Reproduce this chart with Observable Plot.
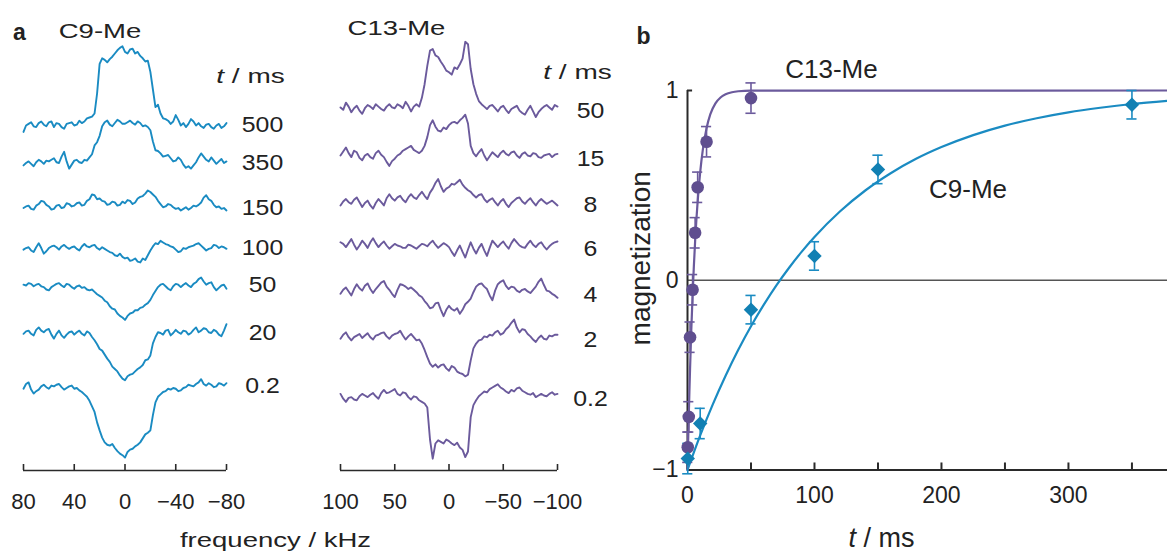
<!DOCTYPE html>
<html>
<head>
<meta charset="utf-8">
<script src="https://cdn.jsdelivr.net/npm/d3@7"></script>
<script src="https://cdn.jsdelivr.net/npm/@observablehq/plot@0.6"></script>
<style>
  html, body { margin: 0; padding: 0; background: #fff; }
  #fig { position: relative; width: 1167px; height: 554px; background: #fff; overflow: hidden; }
  #fig svg { position: absolute; left: 0; top: 0; }
  text { white-space: pre; }
</style>
</head>
<body>
<div id="fig"></div>
<script>
// ---------------- DATA ----------------
// Panel a, C9-Me spectra (frequency in kHz, intensity in arbitrary units)
const c9Freq = [80,78,76,74,72,70,68,66,64,62,60,58,56,54,52,50,48,46,44,42,40,38,36,34,32,30,28,26,24,22,20,18,16,14,12,10,8,6,4,2,0,-2,-4,-6,-8,-10,-12,-14,-16,-18,-20,-22,-24,-26,-28,-30,-32,-34,-36,-38,-40,-42,-44,-46,-48,-50,-52,-54,-56,-58,-60,-62,-64,-66,-68,-70,-72,-74,-76,-78,-80];
const c9Times = ["500","350","150","100","50","20","0.2"];
const c9_500 = [-0.08,0.0,0.02,0.04,-0.01,-0.02,0.03,0.05,0.01,-0.01,0.04,0.05,-0.02,0.03,0.02,-0.02,-0.04,0.02,0.03,0.04,0.0,0.01,0.06,0.03,0.05,0.09,0.10,0.11,0.15,0.40,0.77,0.84,0.82,0.79,0.83,0.86,0.90,0.94,0.97,0.99,0.92,0.90,0.95,0.96,0.90,0.92,0.87,0.84,0.80,0.81,0.67,0.45,0.23,0.26,0.15,0.09,0.08,0.06,0.02,0.05,0.13,0.07,0.0,0.03,-0.02,0.02,0.08,0.05,0.0,0.03,-0.01,-0.03,0.01,0.02,-0.02,-0.04,0.0,0.02,-0.03,-0.01,0.03];
const c9_350 = [-0.02,0.01,0.03,0.0,-0.03,0.02,0.05,0.03,0,0.04,0.03,0.05,0.07,0.02,0.01,0.09,0.15,0.03,-0.06,-0.01,0.04,0.05,0.02,0.01,0.05,0.04,0.08,0.12,0.23,0.27,0.35,0.47,0.52,0.54,0.49,0.47,0.51,0.55,0.53,0.50,0.50,0.52,0.54,0.51,0.49,0.53,0.51,0.47,0.48,0.46,0.42,0.28,0.17,0.16,0.13,0.09,0.10,0.11,0.07,0.03,0.04,0.08,0.05,-0.01,-0.05,-0.03,-0.06,-0.02,0.02,0.08,0.13,0.09,0.05,0.03,0.08,0.04,0,0.03,0.06,0.01,0.03];
const c9_150 = [0.01,0.03,0.04,0.0,-0.01,0.04,0.06,0.10,0.09,0.05,0.03,-0.01,0,0.04,0.05,0.01,0.02,0.07,0.06,0.03,0.04,0.07,0.08,0.04,0.05,0.10,0.12,0.18,0.17,0.12,0.13,0.10,0.09,0.05,0.06,0.09,0.08,0.04,0.05,0.09,0.07,0.11,0.10,0.06,0.08,0.13,0.15,0.16,0.19,0.23,0.21,0.18,0.15,0.10,0.06,0.02,0.03,0.06,0.05,0.02,0,0.01,-0.02,0.0,0.02,-0.01,0.01,0.04,0.03,0.05,0.08,0.14,0.17,0.12,0.10,0.05,0.02,0.03,0,0.01,-0.02];
const c9_100 = [-0.01,0.01,0.02,-0.02,-0.04,0.02,0.07,0.01,-0.06,-0.03,0.01,0.03,0.04,0.02,-0.01,0.03,0.05,0.02,0,0.02,0.03,0.0,-0.02,0.03,0.06,0.03,0.02,0.04,0.05,0.01,-0.01,0.02,0,-0.02,-0.04,-0.05,-0.08,-0.09,-0.06,-0.10,-0.12,-0.11,-0.15,-0.14,-0.12,-0.16,-0.17,-0.12,-0.14,-0.08,-0.02,0.03,0.07,0.06,0.10,0.08,0.06,0.05,0.03,0.02,-0.01,-0.04,-0.03,0.01,0,0.02,0.03,0.04,0.06,0.07,0.04,0.01,-0.02,0.0,0.01,0.05,0.04,0.01,0.03,0.02,0];
const c9_50 = [0.01,0.0,0.03,0.02,-0.01,0.01,0.02,-0.01,-0.02,-0.05,-0.06,-0.02,0,0.02,0.03,0.0,-0.02,0.02,0.01,-0.02,-0.04,-0.01,0,-0.03,-0.02,-0.05,-0.06,-0.05,-0.08,-0.11,-0.13,-0.15,-0.19,-0.21,-0.26,-0.29,-0.30,-0.35,-0.38,-0.40,-0.43,-0.38,-0.35,-0.34,-0.31,-0.31,-0.28,-0.27,-0.24,-0.22,-0.18,-0.12,-0.07,-0.02,0.01,0.02,-0.01,-0.04,-0.06,-0.01,0.02,0.01,-0.02,0.01,0.03,0.0,-0.02,0.02,0.04,0.08,0.10,0.05,0.01,0.03,0.04,-0.02,-0.06,-0.03,0,0.01,-0.04];
const c9_20 = [0,0.03,0.04,0.0,-0.02,0.05,0.08,0.04,0.02,0.05,0.06,-0.01,-0.06,0.0,0.04,-0.02,-0.05,-0.01,0.02,0.03,-0.01,0.02,0.04,0.0,-0.02,0.03,0.01,-0.04,-0.08,-0.13,-0.19,-0.21,-0.26,-0.31,-0.35,-0.41,-0.44,-0.47,-0.52,-0.56,-0.58,-0.53,-0.51,-0.50,-0.47,-0.44,-0.42,-0.39,-0.33,-0.32,-0.27,-0.12,-0.04,0.02,0.01,-0.01,0.04,0.05,-0.02,0.01,0.05,0.02,0,0.04,0.03,-0.01,0.01,0.05,0.08,0.02,0.04,0.07,0.06,0.02,0.01,0.05,0.03,-0.01,-0.03,0.04,0.12];
const c9_02 = [-0.02,0.04,0.06,-0.03,-0.08,-0.05,-0.03,0.01,0.03,0.0,-0.02,0.02,0.01,0.03,0.04,0.0,-0.03,-0.01,0.01,0.02,-0.02,-0.01,-0.04,-0.06,-0.09,-0.12,-0.17,-0.24,-0.31,-0.44,-0.54,-0.63,-0.69,-0.72,-0.73,-0.71,-0.76,-0.80,-0.83,-0.85,-0.88,-0.81,-0.78,-0.77,-0.74,-0.72,-0.69,-0.64,-0.59,-0.57,-0.54,-0.35,-0.19,-0.12,-0.09,-0.06,-0.05,-0.02,-0.03,-0.01,-0.02,-0.05,-0.04,-0.01,0,0.03,0.02,0.01,0.04,0.06,0.10,0.04,0.02,0.05,0.03,0.0,0.01,0.05,0.04,0.02,0.05];
const c9FreqTicks = [80,40,0,-40,-80];

// Panel a, C13-Me spectra
const c13Freq = [100,97.5,95,92.5,90,87.5,85,82.5,80,77.5,75,72.5,70,67.5,65,62.5,60,57.5,55,52.5,50,47.5,45,42.5,40,37.5,35,32.5,30,27.5,25,22.5,20,17.5,15,12.5,10,7.5,5,2.5,0,-2.5,-5,-7.5,-10,-12.5,-15,-17.5,-20,-22.5,-25,-27.5,-30,-32.5,-35,-37.5,-40,-42.5,-45,-47.5,-50,-52.5,-55,-57.5,-60,-62.5,-65,-67.5,-70,-72.5,-75,-77.5,-80,-82.5,-85,-87.5,-90,-92.5,-95,-97.5,-100];
const c13Times = ["50","15","8","6","4","2","0.2"];
const c13_50 = [0.01,-0.02,0.07,0.02,-0.05,0.0,0.03,-0.03,-0.07,0.0,0.04,0.02,-0.01,0.05,0.02,-0.01,-0.03,0.02,0.05,0.01,0,0.05,0.03,0.0,0.08,0.03,-0.04,0.02,0.05,0.02,0.13,0.30,0.53,0.72,0.74,0.66,0.64,0.58,0.53,0.47,0.45,0.42,0.51,0.49,0.55,0.62,0.83,0.80,0.49,0.30,0.18,0.09,0.05,0.02,-0.01,0.03,0.04,0.0,-0.04,0.01,0.03,-0.02,-0.06,-0.01,0.01,0.03,-0.03,-0.06,-0.08,-0.02,0.03,-0.04,-0.11,-0.05,-0.01,0.02,0.04,0.01,-0.02,0.04,0.02];
const c13_15 = [0,0.05,0.10,0.03,-0.02,0.06,0.04,-0.03,-0.06,0.0,0.02,-0.02,-0.04,0.03,0.06,0.01,-0.02,-0.08,-0.13,-0.07,-0.04,0.0,0.02,0.06,0.08,0.10,0.12,0.07,0.05,0.03,0.06,0.12,0.23,0.38,0.44,0.36,0.31,0.30,0.35,0.33,0.38,0.41,0.42,0.40,0.44,0.47,0.51,0.40,0.12,0.03,-0.01,0.04,0.08,0.0,-0.06,-0.01,0.04,0.01,-0.02,0.03,0.06,0.02,0,0.04,0.05,0.0,-0.03,0.02,0.04,0.00,-0.01,0.03,0.02,-0.02,-0.03,0.0,0.01,0.02,-0.02,0.01,0.02];
const c13_8 = [-0.04,0.01,0.04,0.0,-0.02,0.03,0.06,0.0,-0.06,-0.01,0.02,-0.04,-0.08,-0.01,0.04,0.0,-0.04,0.05,0.10,0.05,0.02,0.06,0.08,0.03,0,0.06,0.10,0.06,0.04,0.09,0.13,0.08,0.04,0.12,0.17,0.24,0.29,0.20,0.13,0.17,0.19,0.23,0.22,0.25,0.28,0.22,0.18,0.15,0.13,0.09,0.06,0.09,0.10,0.04,0,0.03,0.05,0.0,-0.04,0.01,0.04,-0.02,-0.06,-0.01,0.02,0.05,0.06,0.01,-0.02,0.02,0.05,0.0,-0.04,0.01,0.04,0.01,-0.02,0.0,0.02,-0.01,-0.04];
const c13_6 = [0.04,0.02,-0.02,0.03,0.08,0.01,-0.05,0.00,0.06,0.02,-0.03,0.04,0.09,0.03,-0.02,0.02,0.05,0.0,-0.04,-0.01,0.02,0.0,-0.01,-0.03,-0.03,0.01,0,-0.02,-0.04,-0.01,0.02,0.01,-0.01,0.03,0.06,0.01,-0.03,0.0,0.03,0.01,-0.02,-0.08,-0.13,-0.06,0,-0.08,-0.15,-0.05,0.04,-0.04,-0.10,-0.03,0.02,-0.06,-0.13,-0.03,0.06,0.02,-0.02,0.02,0.05,0.0,-0.04,0.03,0.08,0.04,0,-0.02,-0.03,0.02,0.06,0.01,-0.02,0.02,0.04,-0.01,-0.05,-0.01,0.02,0.04,0.05];
const c13_4 = [-0.02,0.03,0.06,0.01,-0.04,0.04,0.10,0.05,0.02,0.08,0.11,0.04,-0.01,0.04,0.08,0.12,0.14,0.07,0.03,-0.02,-0.06,0.03,0.10,0.09,0.07,0.04,0.06,0.03,0,-0.04,-0.06,-0.11,-0.15,-0.20,-0.19,-0.14,-0.13,-0.22,-0.30,-0.22,-0.17,-0.21,-0.23,-0.20,-0.27,-0.22,-0.15,-0.12,-0.08,0.0,0.07,0.10,0.11,0.07,0.04,-0.04,-0.10,0.02,0.10,0.13,0.15,0.08,0.04,0.07,0.06,0.02,0,0.03,0.04,0.01,-0.01,0.03,0.07,0.13,0.17,0.09,0.02,0.01,-0.02,-0.04,-0.07];
const c13_2 = [-0.02,0.03,0.06,0.0,-0.04,0.0,0.02,0.04,-0.01,0.02,0.05,0.0,-0.03,0.02,0.03,0.05,0.06,0.01,-0.02,0.02,0.04,0.05,0.08,0.02,-0.03,0.01,0.04,0.0,-0.04,-0.03,-0.08,-0.16,-0.25,-0.33,-0.37,-0.34,-0.38,-0.35,-0.34,-0.39,-0.42,-0.36,-0.38,-0.43,-0.45,-0.46,-0.49,-0.47,-0.29,-0.14,-0.08,-0.04,-0.03,0.01,0,0.03,0.02,0.06,0.08,0.03,0.05,0.10,0.13,0.18,0.22,0.12,0.06,0.10,0.09,0.04,0.01,-0.03,-0.06,-0.01,0.02,-0.02,-0.03,0.02,0.01,0.03,0.03];
const c13_02 = [0.02,-0.04,-0.08,-0.03,-0.02,-0.05,-0.06,-0.01,0.02,0.0,-0.02,0.01,0.03,-0.01,-0.04,0.03,0.07,0.03,0.04,0.06,0.08,0.02,0,0.04,0.03,-0.02,-0.05,-0.01,-0.02,-0.06,-0.08,-0.10,-0.15,-0.55,-0.79,-0.60,-0.56,-0.58,-0.60,-0.55,-0.57,-0.60,-0.62,-0.59,-0.65,-0.68,-0.77,-0.70,-0.27,-0.12,-0.06,-0.01,0.02,0.05,0.04,0.08,0.10,0.12,0.14,0.10,0.08,0.05,0.03,0.07,0.05,0.09,0.10,0.06,0.04,0.02,0.01,0.03,-0.02,0.0,0.02,0.0,-0.01,0.02,0.04,0.01,0.02];
const c13FreqTicks = [100,50,0,-50,-100];

// Panel b, magnetization recovery
const c13T = [0.2,1,2,4,6,8,15,50];
const c13M = [-0.88,-0.72,-0.30,-0.05,0.25,0.49,0.73,0.96];
const c13Err = [0.08,0.08,0.08,0.08,0.08,0.08,0.08,0.08];
const c9T = [0.2,10,50,100,150,350];
const c9M = [-0.94,-0.755,-0.155,0.128,0.584,0.925];
const c9Err = [0.08,0.08,0.075,0.075,0.075,0.075];
// fitted curves
const c13FitT = [0,0.5,1,1.5,2,3,4,5,6,7,8,10,12,15,18,22,26,30,35,40,50,378];
const c13FitM = [-1,-0.852,-0.715,-0.588,-0.470,-0.261,-0.081,0.073,0.205,0.319,0.416,0.570,0.684,0.801,0.875,0.932,0.963,0.980,0.991,0.996,0.999,1.0];
const c9FitT = [0,10,20,30,40,50,60,70,80,90,100,120,140,160,180,200,225,250,275,300,325,350,378];
const c9FitM = [-1,-0.818,-0.653,-0.503,-0.366,-0.242,-0.130,-0.027,0.066,0.151,0.228,0.362,0.473,0.564,0.640,0.702,0.765,0.815,0.854,0.885,0.909,0.929,0.946];
const tTicksLabeled = [0,100,200,300];
const tTicks = [0,50,100,150,200,250,300,350];
const mTicks = [-1,0,1];

// ---------------- LAYOUT / STYLE ----------------
const W = 1167, H = 554;
const FONT = '"Liberation Sans", Arial, Helvetica, sans-serif';
const BLUE = "#1a8bc2", BLUE_MARK = "#1180b3";
const PURPLE = "#6b5a9c", PURPLE_MARK = "#5f4e8f";
const AXIS = "#2a2a2a", INK = "#222";
const SPEC_Y = [-4.3125, 1.5625];        // stacked-spectra y domain (units), frame 0..470 px
const SPEC_BOTTOM = 470;
const SPEC_TICK = 6 / 80;                // tick length in units
const c9Offsets = [0, -0.479, -1.042, -1.542, -2.0, -2.604, -3.271];
const c13Offsets = [0.216, -0.375, -0.959, -1.5, -2.084, -2.646, -3.375];
const MID = {textAnchor: "middle", lineAnchor: "middle"};
const minus = d => (d < 0 ? "\u2212" + Math.abs(d) : String(d));

const baseStyle = {background: "transparent", fontFamily: FONT, fontSize: "22px", color: INK, overflow: "visible"};

function label(str, opts) {
  return Plot.text([str], {text: d => d, fill: INK, ...MID, ...opts});
}

function spectraPanel(o) {
  const rows = o.series.flatMap((vals, i) =>
    vals.map((v, j) => ({label: o.labels[i], f: o.freq[j], v: v + o.offsets[i]})));
  const labelRows = o.labels.map((l, i) => ({label: l, y: o.offsets[i]}));
  const axisV = SPEC_Y[0];
  const d = [o.freq[0], o.freq[o.freq.length - 1]];
  return Plot.plot({
    width: W, height: H,
    marginLeft: o.left, marginRight: W - o.right, marginTop: 0, marginBottom: H - SPEC_BOTTOM,
    style: baseStyle,
    x: {domain: d},
    y: {domain: SPEC_Y, axis: null},
    marks: [
      Plot.ruleY([axisV], {x1: d[0], x2: d[1], stroke: AXIS, strokeWidth: 1.6}),
      Plot.ruleX(o.ticks, {x: t => t, y1: axisV, y2: axisV + SPEC_TICK, stroke: AXIS, strokeWidth: 1.6}),
      Plot.axisX(o.ticks, {tickSize: 0, tickPadding: 23, fontSize: 22, label: null, tickFormat: minus}),
      Plot.line(rows, {x: "f", y: "v", z: "label", stroke: o.color, strokeWidth: 1.9, strokeLinejoin: "round"}),
      Plot.text(labelRows, {y: "y", text: "label", frameAnchor: "right", dx: o.labelDx, dy: o.labelDy,
        fontSize: 22, fill: INK, ...MID, ariaDescription: "stretch-1.13"}),
      label(o.title, {frameAnchor: "top-left", dx: o.titleDx, dy: o.titleDy, fontSize: 21, ariaDescription: "stretch-1.31"}),
      label("t / ms", {frameAnchor: "top-right", dx: o.tmsDx, dy: o.tmsDy, fontSize: 20, ariaDescription: "stretch-1.4"}),
      ...(o.extra || [])
    ]
  });
}

const panelC9 = spectraPanel({
  freq: c9Freq, series: [c9_500, c9_350, c9_150, c9_100, c9_50, c9_20, c9_02],
  labels: c9Times, offsets: c9Offsets, color: BLUE, left: 23, right: 226, ticks: c9FreqTicks,
  labelDx: 36, labelDy: -1, title: "C9-Me", titleDx: 76.5, titleDy: 30.5, tmsDx: 24, tmsDy: 76,
  extra: [
    label("a", {frameAnchor: "top-left", dx: -4, dy: 32, fontSize: 23, fontWeight: "bold"}),
    label("frequency / kHz", {frameAnchor: "bottom-left", dx: 252, dy: 70, fontSize: 21, ariaDescription: "stretch-1.31"})
  ]
});

const panelC13 = spectraPanel({
  freq: c13Freq, series: [c13_50, c13_15, c13_8, c13_6, c13_4, c13_2, c13_02],
  labels: c13Times, offsets: c13Offsets, color: PURPLE, left: 340, right: 557, ticks: c13FreqTicks,
  labelDx: 33, labelDy: 3, title: "C13-Me", titleDx: 56, titleDy: 28, tmsDx: 20, tmsDy: 72
});

// panel b
const c13Pts = c13T.map((t, i) => ({t, m: c13M[i], e: c13Err[i]}));
const c9Pts = c9T.map((t, i) => ({t, m: c9M[i], e: c9Err[i]}));
const c13Fit = c13FitT.map((t, i) => ({t, m: c13FitM[i]}));
const c9Fit = c9FitT.map((t, i) => ({t, m: c9FitM[i]}));
const CAP = 4;          // half cap width (ms)
const TICKLEN = 0.037;  // tick length (magnetization units)

function errMarks(pts, color) {
  return [
    Plot.ruleX(pts, {x: "t", y1: d => d.m - d.e, y2: d => d.m + d.e, stroke: color, strokeWidth: 1.6}),
    Plot.ruleY(pts, {y: d => d.m + d.e, x1: d => d.t - CAP, x2: d => d.t + CAP, stroke: color, strokeWidth: 1.6}),
    Plot.ruleY(pts, {y: d => d.m - d.e, x1: d => d.t - CAP, x2: d => d.t + CAP, stroke: color, strokeWidth: 1.6})
  ];
}

const panelB = Plot.plot({
  width: W, height: H,
  marginLeft: 687, marginRight: 0, marginTop: 90, marginBottom: H - 469.5,
  style: baseStyle,
  x: {domain: [0, 378]},
  y: {domain: [-1, 1]},
  marks: [
    Plot.ruleY([0], {stroke: "#555", strokeWidth: 1.5}),
    Plot.ruleY([-1], {stroke: AXIS, strokeWidth: 2}),
    Plot.ruleX([0], {y1: -1, y2: 1, stroke: AXIS, strokeWidth: 2}),
    Plot.ruleY([1], {x1: 0, x2: 4, stroke: AXIS, strokeWidth: 2}),
    Plot.ruleX(tTicks, {x: d => d, y1: -1, y2: -1 + TICKLEN, stroke: AXIS, strokeWidth: 2}),
    Plot.axisX(tTicksLabeled, {tickSize: 0, tickPadding: 17, fontSize: 23, label: null, tickFormat: minus}),
    Plot.axisY(mTicks, {tickSize: 0, tickPadding: 9, fontSize: 23, label: null, tickFormat: minus}),
    Plot.line(c9Fit, {x: "t", y: "m", stroke: BLUE, strokeWidth: 2.2, curve: "monotone-x"}),
    Plot.line(c13Fit, {x: "t", y: "m", stroke: PURPLE, strokeWidth: 2.2, curve: "monotone-x"}),
    ...errMarks(c13Pts, PURPLE),
    ...errMarks(c9Pts, BLUE),
    Plot.dot(c13Pts, {x: "t", y: "m", r: 6.3, fill: PURPLE_MARK, stroke: "none"}),
    Plot.dot(c9Pts, {x: "t", y: "m", r: 6.5, symbol: "diamond2", fill: BLUE_MARK, stroke: "none"}),
    label("b", {frameAnchor: "top-left", dx: -44, dy: -54, fontSize: 23, fontWeight: "bold"}),
    label("C13-Me", {frameAnchor: "top-left", dx: 144, dy: -21, fontSize: 26}),
    label("C9-Me", {frameAnchor: "top-left", dx: 280.5, dy: 99, fontSize: 26}),
    label("magnetization", {frameAnchor: "left", dx: -46, dy: -22, rotate: -90, fontSize: 28}),
    label("t / ms", {frameAnchor: "bottom-left", dx: 194, dy: 68, fontSize: 27})
  ]
});

// ---------------- FINISH ----------------
const SVGNS = "http://www.w3.org/2000/svg";
function finish(svg) {
  svg.querySelectorAll('g[aria-description^="stretch-"]').forEach(g => {
    const k = +g.getAttribute("aria-description").slice(8);
    g.querySelectorAll("text").forEach(t => {
      const tr = t.getAttribute("transform") || "";
      t.setAttribute("transform", (tr + ` scale(${k},1)`).trim());
    });
  });
  svg.querySelectorAll("text").forEach(t => {
    if (t.textContent === "t / ms") {
      t.textContent = "";
      const a = document.createElementNS(SVGNS, "tspan");
      a.setAttribute("font-style", "italic");
      a.textContent = "t";
      const b = document.createElementNS(SVGNS, "tspan");
      b.textContent = " / ms";
      t.append(a, b);
    }
  });
  return svg;
}

const fig = document.getElementById("fig");
[panelC9, panelC13, panelB].forEach(p => fig.append(finish(p)));
</script>
</body>
</html>
